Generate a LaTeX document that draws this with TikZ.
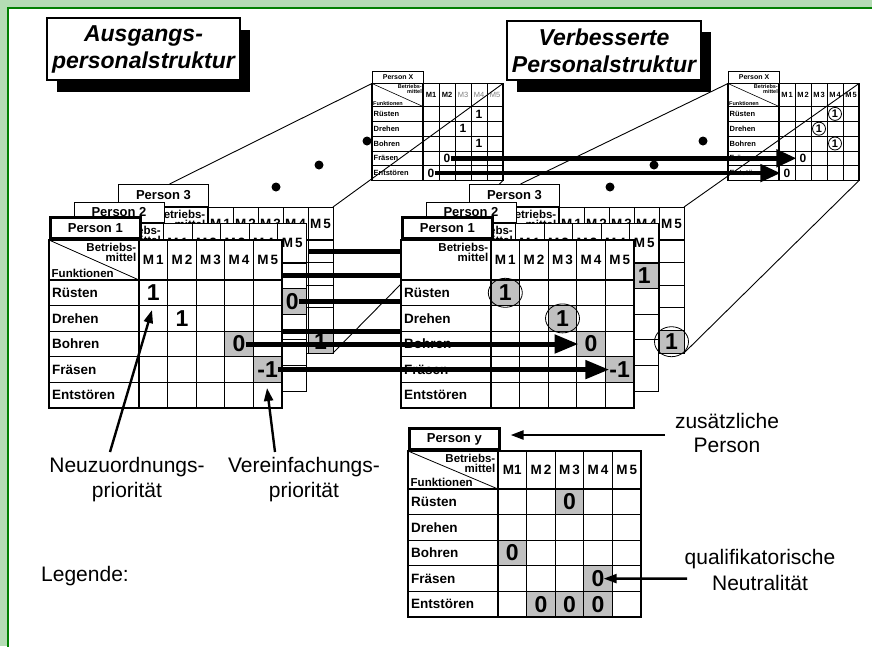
\documentclass[tikz,border=0pt]{standalone}
\usepackage{fontspec}
\setmainfont{Liberation Sans}
\usetikzlibrary{arrows.meta,calc}
\definecolor{lgreen}{RGB}{180,220,180}
\definecolor{dgreen}{RGB}{0,128,0}
\definecolor{cellgray}{RGB}{192,192,192}
\pgfdeclarelayer{back}
\pgfdeclarelayer{mid}
\pgfdeclarelayer{front}
\pgfsetlayers{back,mid,main,front}

\newcommand\fsz[2]{\fontsize{#1}{#2}\selectfont}

\newcommand\setbig{%
  \def\tabW{90}\def\tabw{28.6}\def\tabH{40}\def\tabh{25.6}\def\tabL{21}%
  \def\tThick{2.4pt}\def\tThin{1.1pt}\def\tOuter{2.6pt}\def\tLabLW{2.6pt}\def\tDiagLW{0.8pt}%
  \def\fLab{\fsz{13}{13}\bfseries}%
  \def\fRow{\fsz{13.5}{13.5}\bfseries}%
  \def\fM{\fsz{13.5}{13.5}\bfseries}%
  \def\fBM{\fsz{11.5}{10.5}\bfseries}%
  \def\fNum{\fsz{23}{23}\bfseries}%
  \def\tRowSep{3pt}\def\tBMsep{2.5pt}%
  \def\tDiag{1}\def\tFunk{1}\def\tRows{1}%
  \def\tMlist{1/{M\kern2pt1},2/{M\kern2pt2},3/{M\kern2pt3},4/{M\kern2pt4},5/{M\kern2pt5}}%
}
\newcommand\setsmall{%
  \def\tabW{51}\def\tabw{16}\def\tabH{23}\def\tabh{14.8}\def\tabL{12}%
  \def\tThick{1.3pt}\def\tThin{0.8pt}\def\tOuter{1.3pt}\def\tLabLW{1pt}\def\tDiagLW{0.6pt}%
  \def\fLab{\fsz{7}{7}\bfseries}%
  \def\fRow{\fsz{7.5}{7.5}\bfseries}%
  \def\fM{\fsz{7.5}{7.5}\bfseries}%
  \def\fBM{\fsz{5.5}{5}\bfseries}%
  \def\fNum{\fsz{12}{12}\bfseries}%
  \def\tRowSep{1.5pt}\def\tBMsep{1pt}%
  \def\tDiag{1}\def\tFunk{1}\def\tRows{1}%
  \def\tMlist{1/{M\kern1pt1},2/{M\kern1pt2},3/{M\kern1pt3},4/{M\kern1pt4},5/{M\kern1pt5}}%
}
% stacked (partly hidden) tables
\newcommand\setback{%
  \setbig
  \def\tThick{1.2pt}\def\tThin{1pt}\def\tOuter{1pt}\def\tLabLW{1pt}%
  \def\tDiag{0}\def\tFunk{0}\def\tRows{0}%
}

% #1 name, #2 x, #3 y (table top-left), #4 label, #5 grey entries r/c/v, #6 plain entries r/c/v
\newcommand\drawtab[6]{%
  \pgfmathsetmacro\tWT{\tabW+5*\tabw}%
  \pgfmathsetmacro\tHT{\tabH+5*\tabh}%
  \coordinate (#1-nw) at (#2,#3);
  \coordinate (#1-ne) at ({#2+\tWT},#3);
  \coordinate (#1-sw) at (#2,{#3+\tHT});
  \coordinate (#1-se) at ({#2+\tWT},{#3+\tHT});
  \node[draw, line width=\tLabLW, fill=white, minimum width=\tabW pt, minimum height=\tabL pt,
        inner sep=0pt, anchor=south west, font=\fLab] (#1-label) at (#2,#3) {#4};
  \fill[white] (#1-nw) rectangle (#1-se);
  \foreach \ra in {1,...,5}{\foreach \ca in {1,...,5}{%
     \coordinate (#1-c-\ra-\ca) at ({#2+\tabW+(\ca-0.5)*\tabw},{#3+\tabH+(\ra-0.5)*\tabh});}}
  \if\relax\detokenize{#5}\relax\else
    \foreach \ra/\ca/\va in {#5}{\fill[cellgray] ({#2+\tabW+(\ca-1)*\tabw},{#3+\tabH+(\ra-1)*\tabh}) rectangle ++(\tabw,\tabh);}
  \fi
  \foreach \ii in {1,...,4}{%
    \draw[line width=\tThin] ({#2+\tabW+\ii*\tabw},#3) -- ++(0,\tHT);
    \draw[line width=\tThin] (#2,{#3+\tabH+\ii*\tabh}) -- ++(\tWT,0);}
  \draw[line width=\tThick] (#2,{#3+\tabH}) -- ++(\tWT,0);
  \draw[line width=\tThick] ({#2+\tabW},#3) -- ++(0,\tHT);
  \draw[line width=\tOuter] (#1-nw) rectangle (#1-se);
  \ifnum\tDiag=1 \draw[line width=\tDiagLW] (#1-nw) -- ++(\tabW,\tabH);\fi
  \node[anchor=north east, align=right, font=\fBM, inner sep=\tBMsep] at ({#2+\tabW},#3) {Betriebs-\\mittel};
  \ifnum\tFunk=1 \node[anchor=south west, font=\fBM, inner sep=\tBMsep] at (#2,{#3+\tabH}) {Funktionen};\fi
  \foreach \ii/\mm in \tMlist {\node[font=\fM, inner sep=0pt] at ({#2+\tabW+(\ii-0.5)*\tabw},{#3+\tabH/2}) {\mm};}
  \ifnum\tRows=1
  \foreach \ii/\rl in {1/Rüsten,2/Drehen,3/Bohren,4/Fräsen,5/Entstören}{%
    \node[anchor=west, font=\fRow, inner sep=\tRowSep] at (#2,{#3+\tabH+(\ii-0.5)*\tabh}) {\rl};}
  \fi
  \if\relax\detokenize{#5}\relax\else
    \foreach \ra/\ca/\va in {#5}{\node[font=\fNum, inner sep=0pt] (#1-\ra-\ca) at (#1-c-\ra-\ca) {\va};}
  \fi
  \if\relax\detokenize{#6}\relax\else
    \foreach \ra/\ca/\va in {#6}{\node[font=\fNum, inner sep=0pt] (#1-\ra-\ca) at (#1-c-\ra-\ca) {\va};}
  \fi
}

\begin{document}
\begin{tikzpicture}[x=1pt,y=-1pt,
  persp/.style={line width=0.9pt},
  conn/.style={line width=5pt},
  bigarrow/.style={line width=5pt,-{Triangle[length=24pt,width=18pt]}},
  pxarrow/.style={line width=4.5pt,-{Triangle[length=20pt,width=17pt]}},
  ann/.style={line width=2.4pt,-{Triangle[length=13pt,width=9pt]}},
  dot/.style={circle,fill=black,inner sep=0pt,minimum size=9pt},
  lbl/.style={font={\fsz{21}{25}},align=center,inner sep=0pt},
  title/.style={draw,line width=2.6pt,fill=white,inner sep=0pt,align=center,font={\fsz{23}{27}\bfseries\itshape}},
  ring/.style={line width=0.8pt},
]
\useasboundingbox (0,0) rectangle (872,646);

\begin{pgfonlayer}{back}
\fill[lgreen] (0,0) rectangle (872,646);
\draw[dgreen,line width=2pt,fill=white] (8,8) rectangle (900,700);
% titles
\fill[black] (57,30) rectangle (250,92);
\node[title,minimum width=193pt,minimum height=62pt] (t1) at (143.5,49) {Ausgangs-\\personalstruktur};
\fill[black] (517,32) rectangle (711,92);
\node[title,minimum width=194pt,minimum height=59pt] (t2) at (604,50.5) {Verbesserte\\Personalstruktur};
% left Person X
\setsmall
\def\tMlist{1/{M1},2/{M2},3/{\color{gray}\mdseries M3},4/{\color{gray}\mdseries M4},5/{\color{gray}\mdseries M5}}
\drawtab{PXL}{372}{83.5}{Person X}{}{1/4/1,2/3/1,3/4/1,4/2/0,5/1/0}
% left stack
\setback
\def\tabw{25}\def\tabH{33}\def\tabh{22.6}\def\tabL{22}
\drawtab{P3L}{118}{207}{Person 3}{5/5/1}{}
\setback
\def\tabL{20}
\drawtab{P2L}{73.5}{223}{Person 2}{2/5/0}{}
\setbig
\drawtab{P1L}{49}{240}{Person 1}{3/4/0,4/5/-1}{1/1/1,2/2/1}
\draw[persp] ([xshift=6pt]P3L-label.north) -- (PXL-nw);
\draw[persp] (P3L-ne) -- (PXL-ne);
\draw[persp] (P3L-se) -- (PXL-se);
\node[dot] (dl1) at (367,141) {};
\node[dot] (dl2) at (319,165) {};
\node[dot] (dl3) at (276,187) {};
\end{pgfonlayer}

% right stack
\setback
\def\tabw{25}\def\tabH{33}\def\tabh{22.6}\def\tabL{22}
\drawtab{P3R}{469}{207}{Person 3}{5/5/1}{}
\setback
\def\tabL{20}
\drawtab{P2R}{425.5}{223}{Person 2}{1/5/1}{}
\setbig
\def\tDiag{0}\def\tFunk{0}
\drawtab{P1R}{401}{240}{Person 1}{1/1/1,2/3/1,3/4/0,4/5/-1}{}
\setsmall
\drawtab{PXR}{728}{83.5}{Person X}{}{4/2/0,5/1/0}
\draw[persp] ([xshift=6pt]P3R-label.north) -- (PXR-nw);
\draw[persp] (P3R-ne) -- (PXR-ne);
\draw[persp] (P3R-se) -- (PXR-se);
\foreach \p in {1-4,2-3,3-4}{%
  \node[circle,draw,fill=white,line width=0.8pt,inner sep=0pt,minimum size=13pt,font={\fsz{11}{11}\bfseries}] (PXR-\p) at (PXR-c-\p) {1};}
\node[dot] (dr1) at (703,141) {};
\node[dot] (dr2) at (654,165) {};
\node[dot] (dr3) at (610,187) {};
\draw[ring] (P1R-1-1) ellipse [x radius=17pt,y radius=14.5pt];
\draw[ring] (P1R-2-3) ellipse [x radius=17pt,y radius=14.5pt];
\draw[ring] (P3R-5-5) ellipse [x radius=17pt,y radius=15pt];

% Person y
\setbig
\def\tabH{38}
\def\tMlist{1/{M1},2/{M\kern2pt2},3/{M\kern2pt3},4/{M\kern2pt4},5/{M\kern2pt5}}
\drawtab{Py}{408}{451}{Person y}{1/3/0,3/1/0,4/4/0,5/2/0,5/3/0,5/4/0}{}

% texts
\node[lbl] (neu) at (127,480) {Neuzuordnungs-\\priorität};
\node[lbl] (ver) at (304,480) {Vereinfachungs-\\priorität};
\node[lbl,anchor=west] (leg) at (41,576) {Legende:};
\node[lbl,font={\fsz{21}{24}}] (zus) at (727,433) {zusätzliche\\Person};
\node[lbl,font={\fsz{21}{26}}] (qual) at (760,570) {qualifikatorische\\Neutralität};

\coordinate (neuS) at (110,452);
\coordinate (neuT) at (152,310);
\coordinate (verS) at (275,452);
\coordinate (verT) at (267,388);
\coordinate (zusS) at (665,435);
\coordinate (qualS) at (687,578.6);

\begin{pgfonlayer}{mid}
\draw[conn] ([xshift=-12.5pt]P3L-c-1-5) -- (P3L-c-1-5 -| P1R-nw);
\draw[conn] (P2L-c-1-5 -| P1L-ne) -- (P2L-c-1-5 -| P1R-nw);
\draw[conn] (P2L-2-5.east) -- (P2L-2-5.east -| P1R-nw);
\draw[conn] ($(P2L-c-3-5 -| P1L-ne)+(0,4)$) -- ($(P2L-c-3-5 -| P1R-nw)+(0,4)$);
\end{pgfonlayer}

\begin{pgfonlayer}{front}
\draw[bigarrow,shorten >=6pt] (P1L-3-4.east) -- (P1R-3-4.west);
\draw[bigarrow] (P1L-4-5.east) -- (P1R-4-5.west);
\draw[pxarrow,shorten >=3pt] (PXL-4-2.east) -- (PXR-4-2.west);
\draw[pxarrow,shorten >=3pt] (PXL-5-1.east) -- (PXR-5-1.west);
\draw[ann] (neuS) -- (neuT);
\draw[ann] (verS) -- (verT);
\draw[ann,shorten >=10pt] (zusS) -- (zusS -| Py-label.east);
\draw[ann,shorten >=-1pt] (qualS) -- (Py-4-4.east);
\end{pgfonlayer}
\end{tikzpicture}
\end{document}
